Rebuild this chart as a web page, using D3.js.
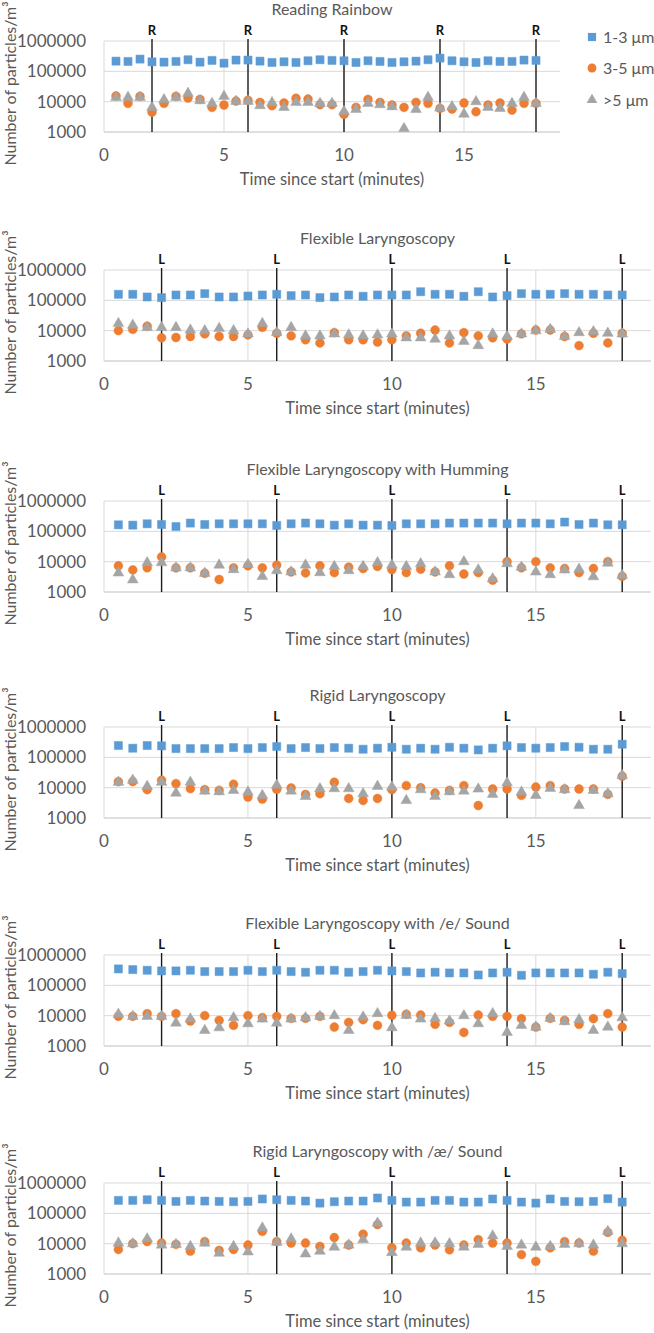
<!DOCTYPE html>
<html><head><meta charset="utf-8">
<script src="https://cdn.jsdelivr.net/npm/d3@7"></script>
<style>body{margin:0;background:#fff} text{font-family:Lato,"Open Sans",sans-serif}</style>
</head><body><svg id="c" width="654" height="1333"></svg>
<script>
// ---------- data ----------
const times = [0.5,1,1.5,2,2.5,3,3.5,4,4.5,5,5.5,6,6.5,7,7.5,8,8.5,9,9.5,10,10.5,11,11.5,12,12.5,13,13.5,14,14.5,15,15.5,16,16.5,17,17.5,18];
const seriesNames = ["1-3 μm","3-5 μm",">5 μm"];
const titles = ["Reading Rainbow","Flexible Laryngoscopy","Flexible Laryngoscopy with Humming","Rigid Laryngoscopy","Flexible Laryngoscopy with /e/ Sound","Rigid Laryngoscopy with /æ/ Sound"];
const eventLabels = ["R","L","L","L","L","L"];
const eventTimes = [2,6,10,14,18];
const xTickValues = [0,5,10,15];
const yTickValues = [1000,10000,100000,1000000];
const yAxisTitle = "Number of particles/m³";
const xAxisTitle = "Time since start (minutes)";

const rrSmall = [217000,212000,253000,206000,201000,212000,241000,201000,229000,186000,235000,235000,217000,196000,206000,196000,223000,241000,229000,223000,196000,223000,212000,196000,206000,217000,241000,273000,223000,206000,196000,223000,212000,212000,235000,229000];
const rrMid = [15400,8800,15000,4540,8800,15000,13200,11900,6490,7760,10500,11100,9500,7370,9030,12900,12200,7950,7950,3800,6490,11900,9500,7760,6490,9500,8800,6010,5710,9030,4660,7760,9030,5300,8800,8800];
const rrLarge = [13900,13900,13900,6490,11600,13900,18900,10800,8800,15000,10300,10300,7370,9270,6490,9500,9500,8800,8800,4780,5570,8800,7950,6820,1310,5570,13900,6170,6820,3900,10000,6490,6010,8800,13900,8800];

const flSmall = [158000,158000,129000,123000,150000,150000,166000,129000,129000,139000,150000,158000,143000,150000,123000,129000,150000,136000,150000,150000,150000,192000,158000,158000,136000,192000,129000,143000,166000,158000,158000,166000,158000,158000,150000,150000];
const flMid = [10000,11000,14100,5820,5950,6420,7820,6420,6420,7260,12800,8210,6740,5020,3930,8630,5020,5020,4220,5020,6740,8210,10500,3930,8630,6740,5820,5270,7820,10500,10500,6420,3220,8210,3930,8210];
const flLarge = [17200,15200,12800,12800,12800,10500,10000,11900,10000,7820,17200,8630,12800,6740,6740,7820,7260,6740,7260,7820,5820,5820,5270,6740,4440,3220,7820,6500,7820,10000,11000,6420,8630,9290,8210,7820];

const fhSmall = [164000,160000,177000,168000,144000,187000,168000,177000,177000,177000,177000,156000,177000,187000,177000,160000,177000,160000,160000,156000,177000,177000,177000,187000,187000,187000,187000,177000,187000,187000,177000,202000,168000,187000,164000,164000];
const fhMid = [7310,5350,6260,14400,6260,6260,4130,2580,6260,7310,6260,7720,4580,4240,7310,4340,6590,5940,6950,5500,4340,5640,4580,7310,3920,4340,2450,10000,6260,10000,6260,5940,4340,5940,10000,3270];
const fhLarge = [4240,2520,9250,9250,6260,6260,4130,7720,5500,8120,3270,5080,4580,7720,4340,6950,5080,6950,9250,7720,6950,8550,4580,3720,10000,5350,2720,8550,6590,4580,3720,5350,5640,3180,9010,3500];

const rlSmall = [245000,200000,245000,239000,194000,194000,194000,194000,210000,194000,210000,227000,194000,210000,194000,210000,200000,185000,200000,215000,185000,200000,185000,215000,200000,176000,200000,239000,210000,200000,210000,227000,215000,185000,185000,271000];
const rlMid = [15800,15800,8580,17600,13600,9260,8580,8150,12900,4890,4190,8800,9750,6000,6310,15100,4410,3780,4410,8580,11700,10000,6640,8150,11700,2580,9030,9030,5550,10500,11700,9030,9030,9030,6000,23900];
const rlLarge = [15100,17600,11100,15100,6640,15100,7740,7360,8150,7170,5550,12000,7740,5140,9260,9260,9260,6310,11100,10500,3780,8580,5140,7360,7740,9030,6000,14300,7170,5550,9500,8580,2580,8150,6310,25100];

const feSmall = [348000,330000,314000,299000,299000,314000,284000,284000,284000,314000,284000,314000,284000,270000,314000,314000,270000,284000,314000,299000,284000,256000,270000,256000,256000,220000,256000,270000,214000,256000,256000,256000,256000,232000,270000,244000];
const feMid = [9500,9500,11700,9500,11700,6660,10000,7000,4780,10000,8590,9500,8160,8160,9500,4210,6010,7370,4780,10300,11100,10500,5170,6010,2800,10500,9500,9500,7950,4210,8160,7000,5170,7950,11700,4210];
const feLarge = [11100,9500,9500,9500,5710,7760,3270,4000,8590,5430,7760,5710,7760,8590,9500,10000,3270,9030,11700,4000,10300,7760,8160,6660,10000,5430,11700,2800,4780,4210,8160,6330,7370,3270,4210,8590];

const raSmall = [267000,267000,281000,267000,247000,267000,254000,247000,241000,247000,297000,281000,267000,254000,217000,241000,254000,254000,320000,267000,235000,235000,267000,267000,235000,235000,297000,267000,235000,217000,297000,247000,241000,247000,304000,235000];
const raMid = [6440,10000,11700,10500,9500,5660,11700,5960,6440,9020,25400,11700,10500,10500,8130,15900,9020,20600,42600,7330,10500,7330,9020,6280,9020,13600,10500,10500,4370,2610,7330,11700,10500,5660,23500,12900];
const raLarge = [10500,10000,14400,9020,9500,8130,10500,4840,8130,5370,32900,11100,14400,4600,5660,7720,9020,13600,47200,5100,7720,10500,10500,10000,7720,9500,18100,8130,9020,7720,8130,9500,10000,9020,25400,10000];

const panelSeries = [
  [rrSmall, rrMid, rrLarge],
  [flSmall, flMid, flLarge],
  [fhSmall, fhMid, fhLarge],
  [rlSmall, rlMid, rlLarge],
  [feSmall, feMid, feLarge],
  [raSmall, raMid, raLarge]
];

// ---------- layout / style ----------
const colors = ["#5B9BD5","#ED7D31","#A5A5A5"];
const symbols = [d3.symbolSquare, d3.symbolCircle, d3.symbolTriangle];
const symSizes = [66, 62, 50];
const panelTops = [41, 270, 501, 727, 955, 1183];
const plotH = 91;
const plotLeft = 104;
const plotRights = [560, 651, 651, 651, 651, 651];
const textCol = "#595959";

const svg = d3.select("#c");

panelSeries.forEach((series, i) => {
  const top = panelTops[i];
  const x = d3.scaleLinear().domain([0, 19]).range([plotLeft, plotRights[i]]);
  const y = d3.scaleLog().domain([1000, 1000000]).range([top + plotH, top]);
  const g = svg.append("g");
  const cx = (plotLeft + plotRights[i]) / 2;

  g.selectAll("line.hg").data(yTickValues).join("line")
    .attr("x1", plotLeft).attr("x2", plotRights[i])
    .attr("y1", d => y(d)).attr("y2", d => y(d))
    .attr("stroke", d => d === 1000 ? "#BFBFBF" : "#D9D9D9").attr("stroke-width", 1);
  g.selectAll("line.vg").data(xTickValues).join("line")
    .attr("x1", d => x(d)).attr("x2", d => x(d))
    .attr("y1", top).attr("y2", top + plotH)
    .attr("stroke", "#D9D9D9").attr("stroke-width", 1);

  g.selectAll("text.yt").data(yTickValues).join("text")
    .attr("x", plotLeft - 18).attr("y", d => y(d)).attr("dy", "0.35em")
    .attr("text-anchor", "end").attr("font-size", 17).attr("fill", textCol)
    .text(d => d3.format("d")(d));
  g.selectAll("text.xt").data(xTickValues).join("text")
    .attr("x", d => x(d)).attr("y", top + plotH + 23).attr("dy", "0.35em")
    .attr("text-anchor", "middle").attr("font-size", 17).attr("fill", textCol)
    .text(d => d);

  g.selectAll("line.ev").data(eventTimes).join("line")
    .attr("x1", d => x(d)).attr("x2", d => x(d))
    .attr("y1", top - 2).attr("y2", top + plotH)
    .attr("stroke", "#1a1a1a").attr("stroke-width", 1.4);
  g.selectAll("text.ev").data(eventTimes).join("text")
    .attr("x", d => x(d)).attr("y", top - 11).attr("dy", "0.35em")
    .attr("text-anchor", "middle").attr("font-size", 13).attr("font-weight", "bold")
    .attr("fill", "#111").text(eventLabels[i]);

  series.forEach((vals, s) => {
    g.append("g").selectAll("path").data(vals).join("path")
      .attr("d", d3.symbol().type(symbols[s]).size(symSizes[s]))
      .attr("transform", (d, k) => `translate(${x(times[k])},${y(d)})`)
      .attr("fill", colors[s]).attr("stroke", colors[s]).attr("stroke-opacity", 0.6).attr("stroke-width", 0.8);
  });

  g.append("text").attr("x", cx).attr("y", top - 32).attr("dy", "0.35em")
    .attr("text-anchor", "middle").attr("font-size", 16).attr("fill", textCol).text(titles[i]);
  g.append("text").attr("x", cx).attr("y", top + plotH + 47).attr("dy", "0.35em")
    .attr("text-anchor", "middle").attr("font-size", 16.5).attr("fill", textCol).text(xAxisTitle);
  g.append("text")
    .attr("transform", `translate(10,${top + plotH / 2 - 3}) rotate(-90)`)
    .attr("dy", "0.35em").attr("text-anchor", "middle").attr("font-size", 16).attr("fill", textCol)
    .text(yAxisTitle);
});

const legY = [37, 68, 100];
const leg = svg.append("g");
seriesNames.forEach((n, s) => {
  leg.append("path").attr("d", d3.symbol().type(symbols[s]).size(symSizes[s]))
    .attr("transform", `translate(592,${legY[s]})`).attr("fill", colors[s]);
  leg.append("text").attr("x", 603).attr("y", legY[s]).attr("dy", "0.35em")
    .attr("font-size", 16).attr("fill", textCol).text(n);
});
</script></body></html>
